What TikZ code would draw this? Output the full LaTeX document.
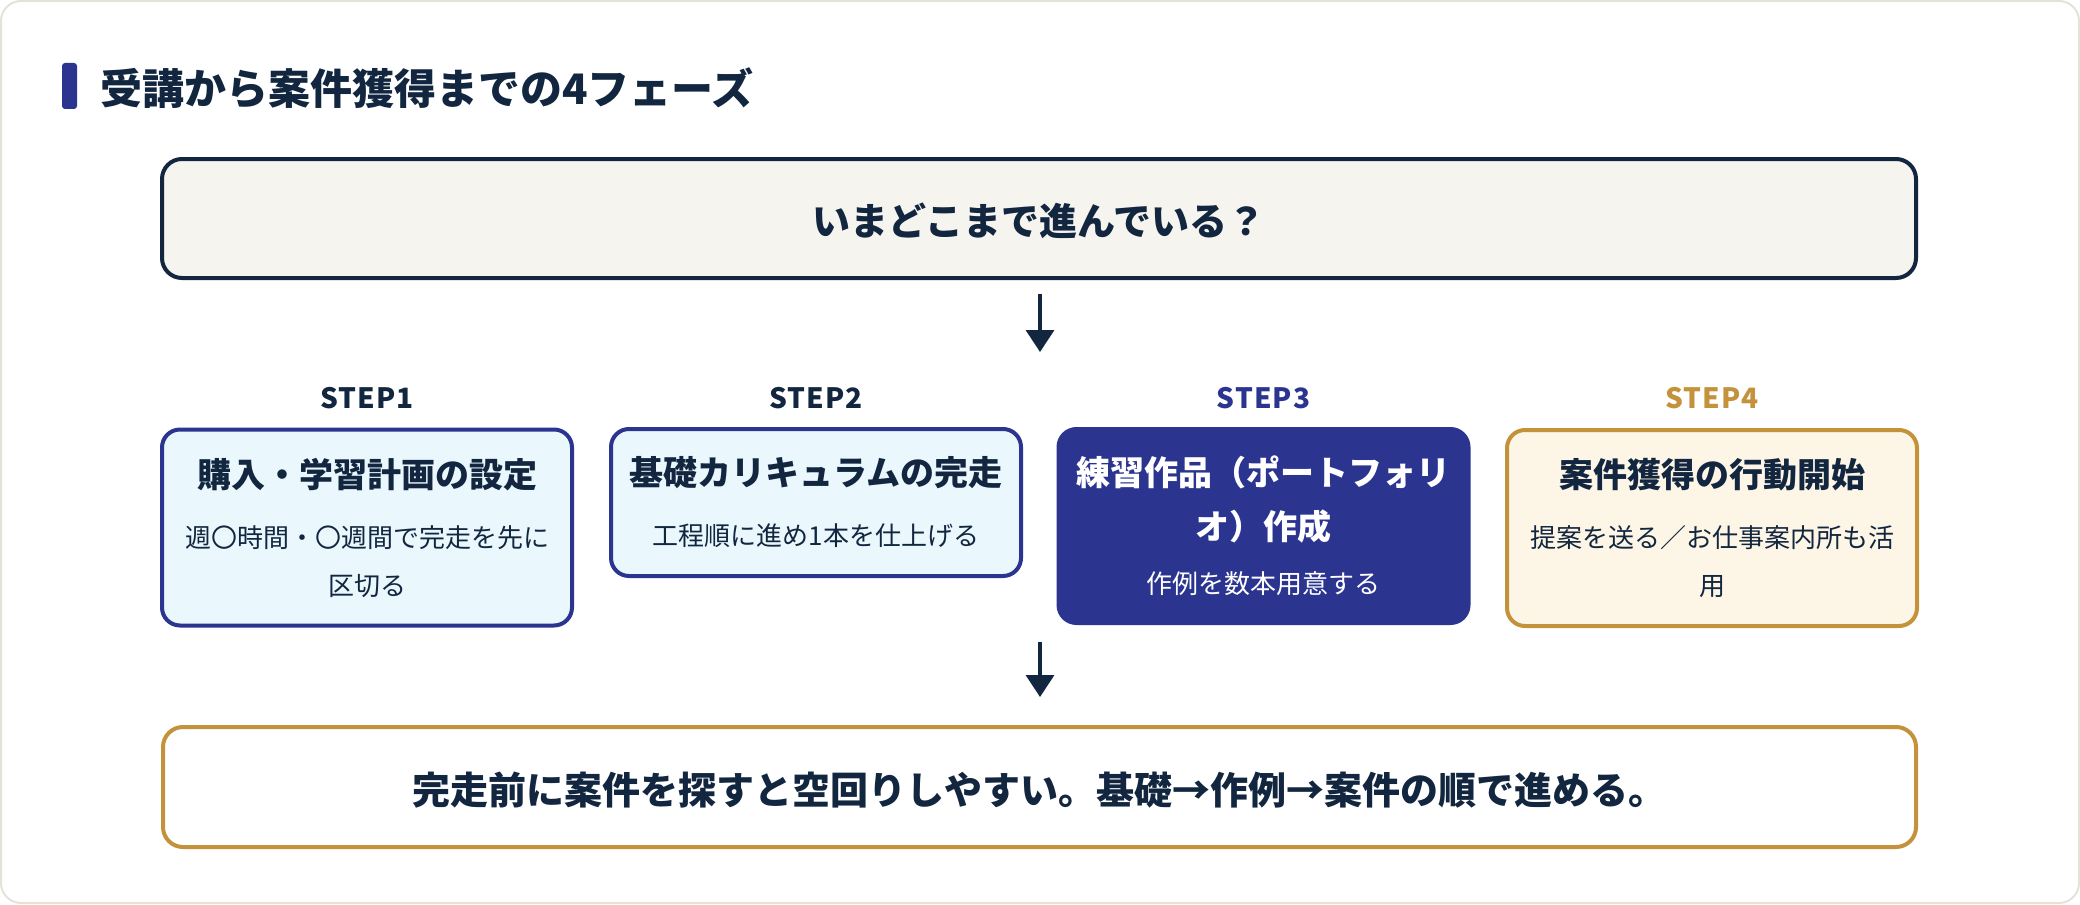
\documentclass[tikz,border=0pt]{standalone}
\usepackage{fontspec}
\setmainfont{Noto Sans CJK JP}
\newfontfamily\steplblfont{Noto Sans CJK JP}[LetterSpace=4]
\usetikzlibrary{arrows.meta}
\definecolor{navy}{HTML}{12263F}
\definecolor{indigo}{HTML}{2B3590}
\definecolor{gold}{HTML}{C4923A}
\definecolor{lightblue}{HTML}{EAF7FD}
\definecolor{cream}{HTML}{FDF5E6}
\definecolor{topfill}{HTML}{F5F4EF}
\definecolor{framec}{HTML}{E5E2D6}
\newcommand\boxttl{\fontsize{17pt}{24.5pt}\selectfont\bfseries}
\newcommand\boxsub{\fontsize{13pt}{24pt}\selectfont}
\newcommand\lowered[1]{\raisebox{-1.3pt}[\height][\depth]{#1}}
\begin{document}
\begin{tikzpicture}[x=0.5pt,y=-0.5pt,
  box/.style={rounded corners=9pt, line width=2pt, inner sep=0pt, align=center},
  stepbox/.style={box, text width=190pt, minimum width=205pt, text=navy},
  bluebox/.style={stepbox, draw=indigo, fill=lightblue},
  widebox/.style={box, rounded corners=10pt, minimum width=877pt, minimum height=59.5pt, text=navy,
     font=\fontsize{19pt}{23pt}\selectfont\bfseries},
  steplabel/.style={inner sep=0pt, font=\steplblfont\fontsize{14pt}{16pt}\selectfont\bfseries},
  arr/.style={draw=navy, line width=1.75pt, -{Triangle[width=14pt,length=11pt]}}
]
\useasboundingbox (0,0) rectangle (2080,904);
\draw[draw=framec, line width=1pt, fill=white, rounded corners=10pt] (1,1) rectangle (2079,903);

% title
\fill[indigo, rounded corners=1.5pt] (62,63) rectangle (77,109);
\node[anchor=west, inner sep=0pt, text=navy, font=\fontsize{21pt}{25pt}\selectfont\bfseries] (title) at (100,88) {受講から案件獲得までの4フェーズ};

% top box
\node[widebox, draw=navy, fill=topfill] (top) at (1039,218.5) {\lowered{いまどこまで進んでいる？}};

% step labels
\node[steplabel, text=navy] (l1) at (367,398) {STEP1};
\node[steplabel, text=navy] (l2) at (816,398) {STEP2};
\node[steplabel, text=indigo] (l3) at (1263.5,398) {STEP3};
\node[steplabel, text=gold] (l4) at (1712,398) {STEP4};

% step boxes
\node[bluebox, minimum height=98pt] (s1) at (367,527.5)
  {\vspace*{2.5pt}{\boxttl 購入・学習計画の設定\par}\vspace{3.5pt}{\boxsub 週〇時間・〇週間で完走を先に\\区切る\par}};
\node[bluebox, minimum height=73.5pt] (s2) at (816,502.5)
  {\vspace*{2.5pt}{\boxttl 基礎カリキュラムの完走\par}\vspace{3.5pt}{\boxsub 工程順に進め1本を仕上げる\par}};
\node[stepbox, draw=indigo, fill=indigo, text=white, minimum height=97pt] (s3) at (1263.5,526)
  {\vspace*{2.5pt}{\boxttl 練習作品（ポートフォリ\\オ）作成\par}\vspace{3pt}{\boxsub 作例を数本用意する\par}};
\node[stepbox, draw=gold, fill=cream, minimum height=98pt] (s4) at (1712,528)
  {\vspace*{2.5pt}{\boxttl 案件獲得の行動開始\par}\vspace{3.5pt}{\boxsub 提案を送る／お仕事案内所も活\\用\par}};

% bottom box
\node[widebox, draw=gold, fill=white, minimum height=60pt, minimum width=876.5pt] (bottom) at (1039.5,787) {\lowered{完走前に案件を探すと空回りしやすい。基礎→作例→案件の順で進める。}};

% arrows
\coordinate (a1) at (1040,352);
\coordinate (a2) at (1040,642);
\draw[arr, shorten <=7pt] (top.south -| a1) -- (a1);
\draw[arr, shorten >=14pt] (a2) -- (a2 |- bottom.north);
\end{tikzpicture}
\end{document}
